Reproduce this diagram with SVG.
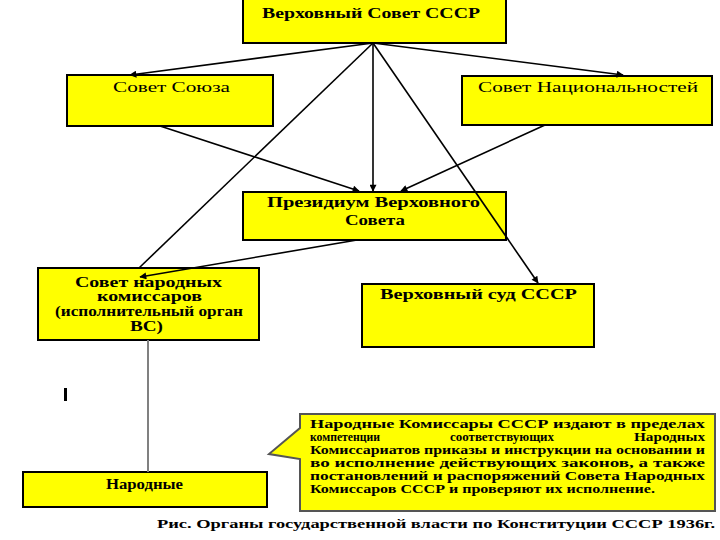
<svg xmlns="http://www.w3.org/2000/svg" width="720" height="540" viewBox="0 0 720 540">
<defs>
<marker id="arr" viewBox="0 0 10 10" refX="9" refY="5" markerWidth="9" markerHeight="7" markerUnits="userSpaceOnUse" orient="auto">
<path d="M0,0 L10,5 L0,10 Z" fill="#000"/>
</marker>
<style>
.box{fill:#FFFF00;stroke:#000;stroke-width:2}
.t{font-family:"Liberation Serif","DejaVu Serif",serif;font-size:14px;fill:#000}
.b{font-weight:bold}
.s{font-family:"Liberation Serif","DejaVu Serif",serif;font-size:12px;font-weight:bold;fill:#000}
.c{stroke:#000;stroke-width:1.6;fill:none}
.ca{stroke:#000;stroke-width:1.6;fill:none;marker-end:url(#arr)}
</style>
</defs>
<rect width="720" height="540" fill="#fff"/>
<g id="supreme-soviet">
<rect class="box" x="243" y="-2" width="263" height="45"/>
<text class="t b" x="262" y="18" textLength="218" lengthAdjust="spacingAndGlyphs">Верховный Совет СССР</text>
</g>
<g id="soviet-union">
<rect class="box" x="67" y="75" width="206" height="51"/>
<text class="t" x="113" y="92" textLength="117" lengthAdjust="spacingAndGlyphs">Совет Союза</text>
</g>
<g id="soviet-nationalities">
<rect class="box" x="462" y="76" width="250" height="49"/>
<text class="t" x="478" y="92" textLength="220" lengthAdjust="spacingAndGlyphs">Совет Национальностей</text>
</g>
<g id="presidium">
<rect class="box" x="243" y="192" width="263" height="48"/>
<text class="t b" x="267" y="207" textLength="213" lengthAdjust="spacingAndGlyphs">Президиум Верховного</text>
<text class="t b" x="345" y="225" textLength="60" lengthAdjust="spacingAndGlyphs">Совета</text>
</g>
<g id="sovnarkom">
<rect class="box" x="38" y="268" width="221" height="72"/>
<text class="t b" x="75" y="287" textLength="147" lengthAdjust="spacingAndGlyphs">Совет народных</text>
<text class="t b" x="97" y="301" textLength="105" lengthAdjust="spacingAndGlyphs">комиссаров</text>
<text class="t b" x="55" y="316" textLength="188" lengthAdjust="spacingAndGlyphs">(исполнительный орган</text>
<text class="t b" x="130" y="331" textLength="33" lengthAdjust="spacingAndGlyphs">ВС)</text>
</g>
<g id="supreme-court">
<rect class="box" x="362" y="284" width="232" height="63"/>
<text class="t b" x="380" y="299" textLength="197" lengthAdjust="spacingAndGlyphs">Верховный суд СССР</text>
</g>
<g id="peoples">
<rect class="box" x="23" y="472" width="244" height="35"/>
<text class="t b" x="106" y="489" textLength="77" lengthAdjust="spacingAndGlyphs">Народные</text>
</g>
<g id="callout">
<path d="M300,414 L715,414 L715,511 L300,511 L300,459 L269,454 L300,428 Z" fill="#FFFF00" stroke="#555" stroke-width="2"/>
<text class="s" x="310" y="428" textLength="395" lengthAdjust="spacingAndGlyphs">Народные Комиссары СССР издают в пределах</text>
<text class="s" x="310" y="441" textLength="70" lengthAdjust="spacingAndGlyphs">компетенции</text>
<text class="s" x="450" y="441" textLength="104" lengthAdjust="spacingAndGlyphs">соответствующих</text>
<text class="s" x="634" y="441" textLength="71" lengthAdjust="spacingAndGlyphs">Народных</text>
<text class="s" x="310" y="454" textLength="395" lengthAdjust="spacingAndGlyphs">Комиссариатов приказы и инструкции на основании и</text>
<text class="s" x="310" y="467" textLength="395" lengthAdjust="spacingAndGlyphs">во исполнение действующих законов, а также</text>
<text class="s" x="310" y="480" textLength="395" lengthAdjust="spacingAndGlyphs">постановлений и распоряжений Совета Народных</text>
<text class="s" x="310" y="493" textLength="345" lengthAdjust="spacingAndGlyphs">Комиссаров СССР и проверяют их исполнение.</text>
</g>
<g id="connectors">
<line class="ca" x1="373" y1="43" x2="130" y2="75"/>
<line class="ca" x1="373" y1="43" x2="623" y2="75"/>
<line class="ca" x1="373" y1="43" x2="373" y2="191"/>
<line class="c" x1="373" y1="43" x2="139" y2="268"/>
<line class="ca" x1="373" y1="43" x2="538" y2="283"/>
<line class="ca" x1="160" y1="126" x2="359" y2="191"/>
<line class="ca" x1="545" y1="125" x2="401" y2="191"/>
<line class="ca" x1="357" y1="240" x2="140" y2="277"/>
<line x1="148" y1="340" x2="148" y2="472" stroke="#808080" stroke-width="2"/>
</g>
<rect x="64" y="388" width="3" height="13" fill="#000"/>
<text x="157" y="528" font-family="'Liberation Serif','DejaVu Serif',serif" font-size="13.5" font-weight="bold" textLength="558" lengthAdjust="spacingAndGlyphs">Рис. Органы государственной власти по Конституции СССР 1936г.</text>
</svg>
